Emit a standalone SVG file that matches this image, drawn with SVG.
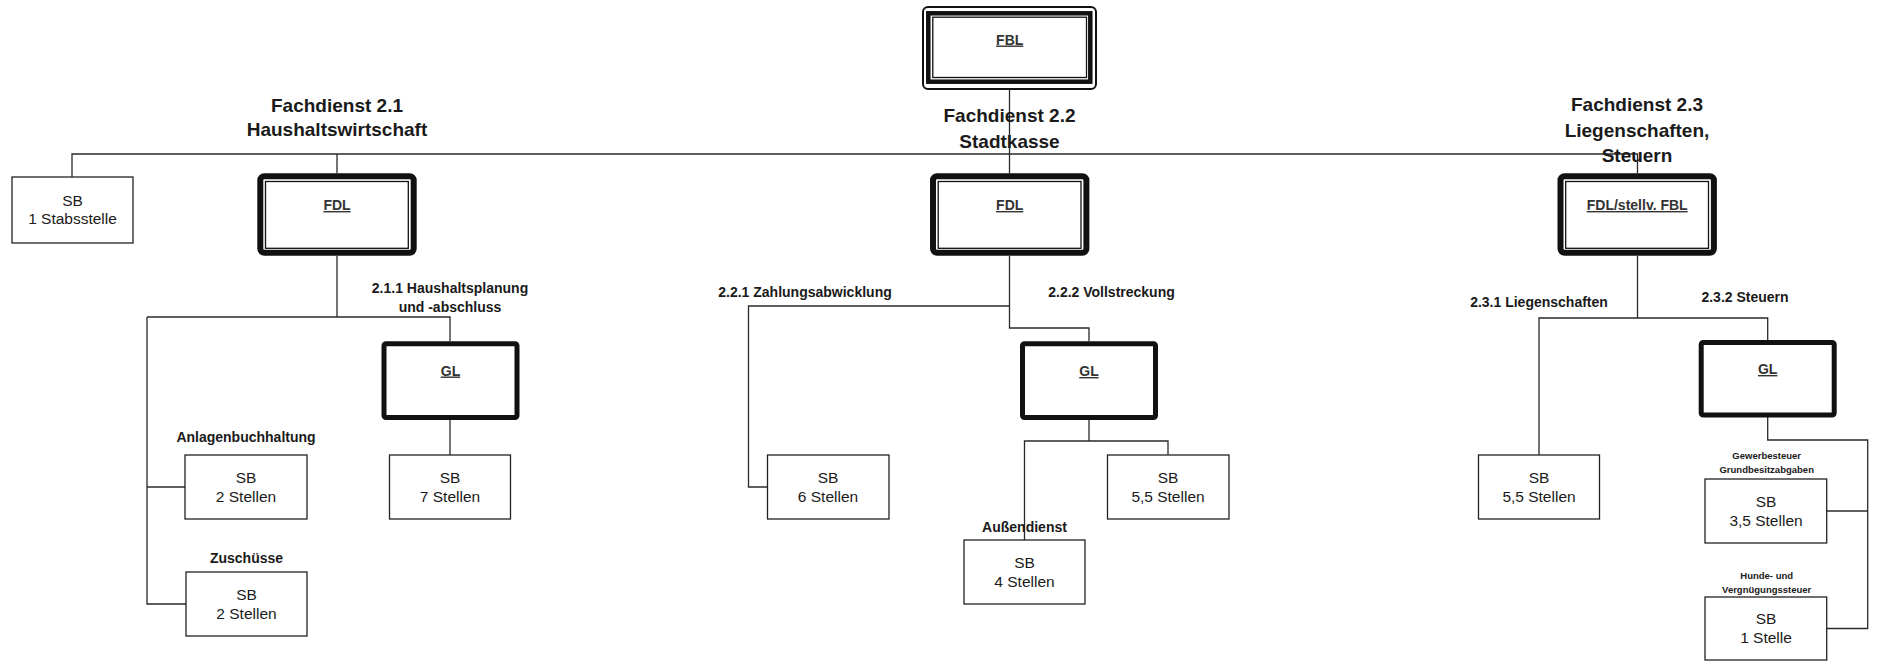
<svg xmlns="http://www.w3.org/2000/svg" width="1890" height="661" viewBox="0 0 1890 661">
<style>
text{font-family:"Liberation Sans",Arial,sans-serif;fill:#1a1a1a;text-anchor:middle}
.h{font-size:19px;font-weight:bold}
.lbl{font-size:14px;font-weight:bold}
.sm{font-size:9.5px;font-weight:bold}
.sb{font-size:15.5px}
.head{font-size:14px;font-weight:bold;text-decoration:underline;fill:#333}
.box{fill:#fff;stroke:#222;stroke-width:1.3}
.gl{fill:#fff;stroke:#111;stroke-width:5}
.fdl{fill:#fff;stroke:#111;stroke-width:6}
.thin{fill:none;stroke:#111;stroke-width:1.3}
.c{fill:none;stroke:#2a2a2a;stroke-width:1.3}
</style>
<rect width="1890" height="661" fill="#fff"/>
<g id="connectors">
<path class="c" d="M72,177 V154 H1637.5 V173"/>
<path class="c" d="M337,154 V173"/>
<path class="c" d="M1009.5,90 V173"/>
<path class="c" d="M337,256 V317"/>
<path class="c" d="M147,317 H450 V341"/>
<path class="c" d="M147,317 V604 H186"/>
<path class="c" d="M147,487 H185"/>
<path class="c" d="M450,420 V455"/>
<path class="c" d="M1009.5,256 V328 H1089 V341"/>
<path class="c" d="M1009.5,306 H748.5 V487 H767.5"/>
<path class="c" d="M1089,420 V441"/>
<path class="c" d="M1024.5,540 V441 H1168 V455"/>
<path class="c" d="M1637.5,256 V318"/>
<path class="c" d="M1539,455 V318 H1767.7 V340"/>
<path class="c" d="M1767.7,417 V440 H1867.7 V628.5 H1826.7"/>
<path class="c" d="M1867.7,511 H1826.7"/>
</g>
<g id="fbl">
<rect x="923" y="7" width="173" height="82" rx="5" fill="#fff" stroke="#111" stroke-width="2"/>
<rect x="928.3" y="13.3" width="162" height="68.4" fill="none" stroke="#111" stroke-width="4.5"/>
<rect x="932.8" y="17.2" width="153.7" height="60.3" class="thin"/>
<text class="head" x="1009.7" y="44.5">FBL</text>
</g>
<g id="fd21-label">
<text class="h" x="337" y="112">Fachdienst 2.1</text>
<text class="h" x="337" y="136">Haushaltswirtschaft</text>
</g>
<g id="fd22-label">
<text class="h" x="1009.5" y="122">Fachdienst 2.2</text>
<text class="h" x="1009.5" y="148">Stadtkasse</text>
</g>
<g id="fd23-label">
<text class="h" x="1637" y="111">Fachdienst 2.3</text>
<text class="h" x="1637" y="136.5">Liegenschaften,</text>
<text class="h" x="1637" y="162">Steuern</text>
</g>
<g id="sb-stab">
<rect class="box" x="12" y="177" width="121" height="66"/>
<text class="sb" x="72.5" y="206">SB</text>
<text class="sb" x="72.5" y="223.5">1 Stabsstelle</text>
</g>
<g id="fdl21">
<rect class="fdl" x="260.3" y="176.3" width="153.4" height="76.5" rx="4"/>
<rect class="thin" x="265.5" y="181.5" width="142.8" height="66.8"/>
<text class="head" x="337" y="210">FDL</text>
</g>
<g id="fdl22">
<rect class="fdl" x="933" y="176.3" width="153.4" height="76.5" rx="4"/>
<rect class="thin" x="938.2" y="181.5" width="142.8" height="66.8"/>
<text class="head" x="1009.7" y="210">FDL</text>
</g>
<g id="fdl23">
<rect class="fdl" x="1560.5" y="176.3" width="153.4" height="76.5" rx="4"/>
<rect class="thin" x="1565.7" y="181.5" width="142.8" height="66.8"/>
<text class="head" x="1637.2" y="210">FDL/stellv. FBL</text>
</g>
<g id="gl211">
<text class="lbl" x="450" y="293">2.1.1 Haushaltsplanung</text>
<text class="lbl" x="450" y="312">und -abschluss</text>
<rect class="gl" x="384" y="343.8" width="133" height="73.7" rx="2"/>
<text class="head" x="450.5" y="375.5">GL</text>
</g>
<g id="sb-anlagen">
<text class="lbl" x="246" y="441.7">Anlagenbuchhaltung</text>
<rect class="box" x="185" y="455" width="122" height="64"/>
<text class="sb" x="246" y="483">SB</text>
<text class="sb" x="246" y="502">2 Stellen</text>
</g>
<g id="sb-zuschuesse">
<text class="lbl" x="246.5" y="562.7">Zuschüsse</text>
<rect class="box" x="186" y="572" width="121" height="64"/>
<text class="sb" x="246.5" y="600">SB</text>
<text class="sb" x="246.5" y="619">2 Stellen</text>
</g>
<g id="sb-211">
<rect class="box" x="389.5" y="455" width="121" height="64"/>
<text class="sb" x="450" y="483">SB</text>
<text class="sb" x="450" y="502">7 Stellen</text>
</g>
<g id="sb-221">
<text class="lbl" x="805" y="297">2.2.1 Zahlungsabwicklung</text>
<rect class="box" x="767.5" y="455" width="121.5" height="64"/>
<text class="sb" x="828" y="483">SB</text>
<text class="sb" x="828" y="502">6 Stellen</text>
</g>
<g id="gl222">
<text class="lbl" x="1111.5" y="297">2.2.2 Vollstreckung</text>
<rect class="gl" x="1022.5" y="343.8" width="133" height="73.7" rx="2"/>
<text class="head" x="1089" y="376">GL</text>
</g>
<g id="sb-222">
<rect class="box" x="1107.5" y="455" width="121.5" height="64"/>
<text class="sb" x="1168" y="483">SB</text>
<text class="sb" x="1168" y="502">5,5 Stellen</text>
</g>
<g id="sb-aussen">
<text class="lbl" x="1024.5" y="532">Außendienst</text>
<rect class="box" x="964" y="540" width="121" height="64"/>
<text class="sb" x="1024.5" y="568">SB</text>
<text class="sb" x="1024.5" y="587">4 Stellen</text>
</g>
<g id="sb-231">
<text class="lbl" x="1539" y="306.7">2.3.1 Liegenschaften</text>
<rect class="box" x="1478.5" y="455" width="121" height="64"/>
<text class="sb" x="1539" y="483">SB</text>
<text class="sb" x="1539" y="502">5,5 Stellen</text>
</g>
<g id="gl232">
<text class="lbl" x="1745" y="301.7">2.3.2 Steuern</text>
<rect class="gl" x="1701.2" y="342.5" width="133" height="72.5" rx="2"/>
<text class="head" x="1767.7" y="374">GL</text>
</g>
<g id="sb-gewerbe">
<text class="sm" x="1766.7" y="459.3">Gewerbesteuer</text>
<text class="sm" x="1766.7" y="472.7">Grundbesitzabgaben</text>
<rect class="box" x="1705" y="479" width="121.7" height="64"/>
<text class="sb" x="1766" y="507">SB</text>
<text class="sb" x="1766" y="526">3,5 Stellen</text>
</g>
<g id="sb-hunde">
<text class="sm" x="1766.7" y="579.3">Hunde- und</text>
<text class="sm" x="1766.7" y="592.7">Vergnügungssteuer</text>
<rect class="box" x="1705" y="597" width="121.7" height="63"/>
<text class="sb" x="1766" y="624">SB</text>
<text class="sb" x="1766" y="643">1 Stelle</text>
</g>
</svg>
